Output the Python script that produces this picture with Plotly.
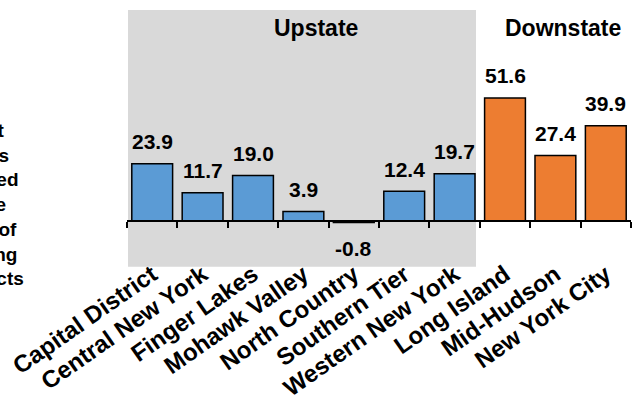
import plotly.graph_objects as go

categories = ["Capital District", "Central New York", "Finger Lakes", "Mohawk Valley",
              "North Country", "Southern Tier", "Western New York",
              "Long Island", "Mid-Hudson", "New York City"]
values = [23.9, 11.7, 19.0, 3.9, -0.8, 12.4, 19.7, 51.6, 27.4, 39.9]
regions = ["Upstate"] * 7 + ["Downstate"] * 3
group_titles = ["Upstate", "Downstate"]
y_title_lines = ["Percent", "Changes", "Authorized", "Average", "Number of", "Remaining", "the Districts"]

region_colors = {"Upstate": "#5B9BD5", "Downstate": "#ED7D31"}
FONT = "Liberation Sans, Arial, sans-serif"

W, H = 635, 408
L, R, T, B = 127, 4, 10, 153
plot_h = H - T - B
plot_w = W - L - R
zero_px = 220.7
px_per_unit = 2.38
ymax = (zero_px - T) / px_per_unit
ymin = -((H - B) - zero_px) / px_per_unit
zero_pos = (0 - ymin) / (ymax - ymin)


def py(pix):  # pixel row -> paper y
    return ((H - B) - pix) / plot_h


def px(pix):  # pixel column -> paper x
    return (pix - L) / plot_w


fig = go.Figure()
fig.add_trace(go.Bar(
    x=categories, y=values,
    marker=dict(color=[region_colors[r] for r in regions],
                line=dict(color="black", width=1.5)),
    hoverinfo="skip", xaxis="x", yaxis="y",
))
fig.add_trace(go.Scatter(
    x=categories, y=[0] * len(categories), mode="markers",
    marker=dict(opacity=0), hoverinfo="skip", xaxis="x2", yaxis="y",
    showlegend=False,
))

annotations = []
for c, v in zip(categories, values):
    annotations.append(dict(
        x=c, y=v, xref="x", yref="y", text=f"{v:.1f}", showarrow=False,
        yshift=22 if v >= 0 else -26, xanchor="center", yanchor="middle",
        font=dict(family=FONT, size=21, color="black", weight="bold"),
    ))

for title, cx in zip(group_titles, [316, 563]):
    annotations.append(dict(x=px(cx), y=py(28), xref="paper", yref="paper", text=title,
                            showarrow=False, xanchor="center", yanchor="middle",
                            font=dict(family=FONT, size=23, color="black", weight="bold")))
annotations.append(dict(x=px(-31), y=py(204.5), xref="paper", yref="paper",
                        text="<br>".join(y_title_lines), showarrow=False,
                        xanchor="center", yanchor="middle", align="center",
                        font=dict(family=FONT, size=19, color="black", weight="bold")))

shapes = [dict(type="rect", xref="paper", yref="paper", x0=px(128), x1=px(476),
               y0=py(266.7), y1=1,
               fillcolor="#D9D9D9", line=dict(width=0), layer="below")]

fig.update_layout(
    width=W, height=H,
    margin=dict(l=L, r=R, t=T, b=B),
    paper_bgcolor="white", plot_bgcolor="rgba(0,0,0,0)",
    showlegend=False, bargap=0.19,
    annotations=annotations, shapes=shapes,
    xaxis=dict(type="category", categoryorder="array", categoryarray=categories,
               range=[-0.5, len(categories) - 0.5],
               anchor="free", position=zero_pos,
               showline=True, linecolor="black", linewidth=2,
               ticks="outside", tickson="boundaries", ticklen=6, tickwidth=1.5, tickcolor="black",
               showticklabels=False, showgrid=False, zeroline=False, fixedrange=True),
    xaxis2=dict(type="category", categoryorder="array", categoryarray=categories,
                range=[-0.5, len(categories) - 0.5],
                overlaying="x", anchor="y", side="bottom",
                showline=False, ticks="", showgrid=False, zeroline=False,
                tickangle=-35,
                tickfont=dict(family=FONT, size=24, color="black", weight="bold")),
    yaxis=dict(range=[ymin, ymax], visible=False, showgrid=False, zeroline=False),
)

fig.write_html("out.html", config={"displayModeBar": False},
               post_script="document.body.style.margin='0';")
